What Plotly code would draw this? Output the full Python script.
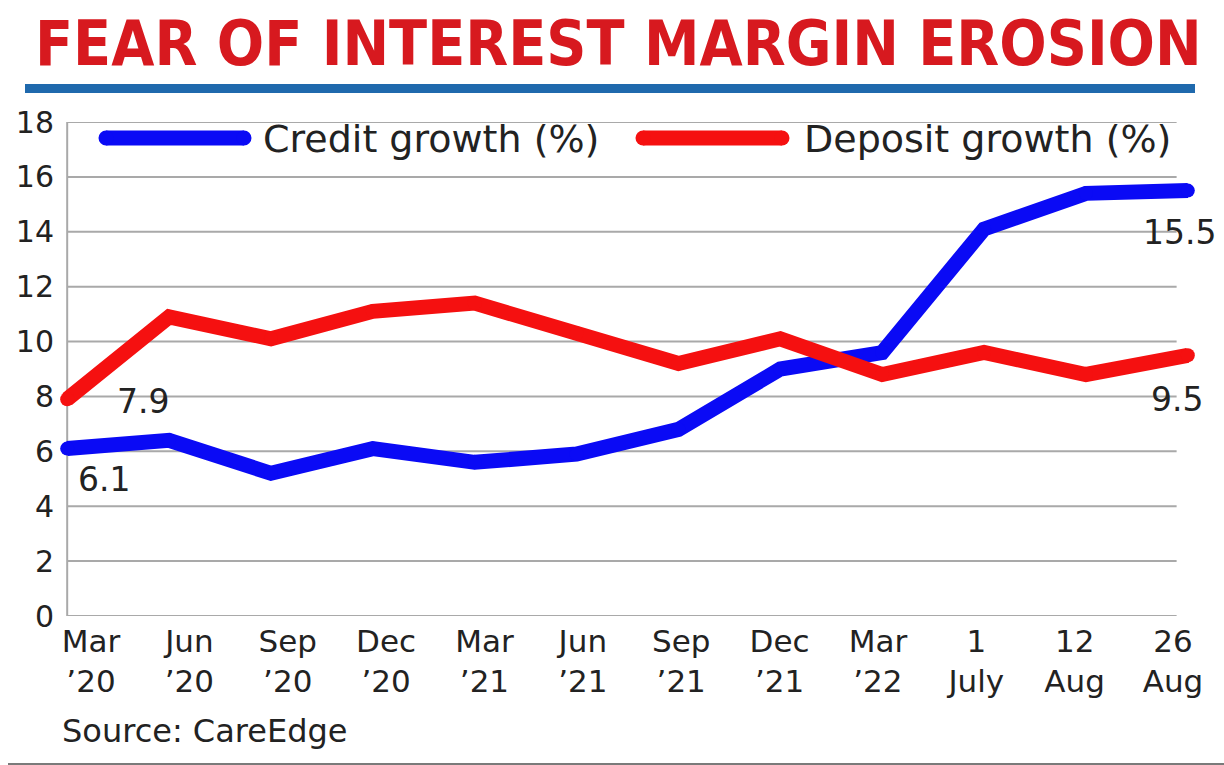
import plotly.graph_objects as go

# ---------------- data ----------------
periods = ["Mar<br>’20", "Jun<br>’20", "Sep<br>’20", "Dec<br>’20", "Mar<br>’21", "Jun<br>’21",
           "Sep<br>’21", "Dec<br>’21", "Mar<br>’22", "1<br>July", "12<br>Aug", "26<br>Aug"]
credit_growth = [6.1, 6.4, 5.2, 6.1, 5.6, 5.9, 6.8, 9.0, 9.6, 14.1, 15.4, 15.5]
deposit_growth = [7.9, 10.9, 10.1, 11.1, 11.4, 10.3, 9.2, 10.1, 8.8, 9.6, 8.8, 9.5]
y_ticks = [0, 2, 4, 6, 8, 10, 12, 14, 16, 18]

title_text = "FEAR OF INTEREST MARGIN EROSION"
source_text = "Source: CareEdge"
legend_names = ["Credit growth (%)", "Deposit growth (%)"]

BLUE = "#0a0af5"
RED = "#f51010"
GRID = "#a9a9a9"
TXT = "#222222"
FONT = "DejaVu Sans, Arial, sans-serif"
TITLE_FONT = ("Liberation Sans Narrow, Noto Sans Condensed, Noto Sans SemiCondensed, "
              "Arial Narrow, DejaVu Sans Condensed, sans-serif")

# ---------------- layout geometry (pixels) ----------------
W, H = 1224, 765
L, R, T, B = 57, 26, 122, 149
PW, PH = W - L - R, H - T - B


def px_x(px):
    return (px - L) / PW


def px_y(py):
    return (H - B - py) / PH


n = len(periods)
xr = [-0.1, n - 1 + 0.1]

fig = go.Figure()

# invisible trace to carry the category labels on the label axis
fig.add_trace(go.Scatter(x=periods, y=[None] * n, xaxis="x2", yaxis="y",
                         mode="lines", showlegend=False, hoverinfo="skip"))

idx = list(range(n))
fig.add_trace(go.Scatter(x=idx, y=credit_growth, mode="lines+markers", name=legend_names[0],
                         line=dict(color=BLUE, width=15), marker=dict(color=BLUE, size=14),
                         showlegend=False, cliponaxis=False))
fig.add_trace(go.Scatter(x=idx, y=deposit_growth, mode="lines+markers", name=legend_names[1],
                         line=dict(color=RED, width=15), marker=dict(color=RED, size=14),
                         showlegend=False, cliponaxis=False))

shapes = []
# horizontal gridlines
for v in y_ticks:
    shapes.append(dict(type="line", xref="x", yref="y", x0=0, x1=n - 1 - 0.11, y0=v, y1=v,
                       line=dict(color=GRID, width=2), layer="below"))
# left axis line
shapes.append(dict(type="line", xref="x", yref="y", x0=0, x1=0, y0=-0.15, y1=y_ticks[-1],
                   line=dict(color=GRID, width=2), layer="below"))
# blue rule under the title
shapes.append(dict(type="rect", xref="paper", yref="paper", x0=px_x(25), x1=px_x(1195),
                   y0=px_y(93), y1=px_y(84), fillcolor="#1f69ad", line=dict(width=0)))
# bottom grey rule
shapes.append(dict(type="line", xref="paper", yref="paper", x0=px_x(8), x1=px_x(1224),
                   y0=px_y(764), y1=px_y(764), line=dict(color="#7a7a7a", width=2)))

# legend keys
for (xa, xb, col) in [(106, 244, BLUE), (643, 782, RED)]:
    shapes.append(dict(type="line", xref="paper", yref="paper", x0=px_x(xa), x1=px_x(xb),
                       y0=px_y(138), y1=px_y(138), line=dict(color=col, width=15)))
    for xc in (xa, xb):
        shapes.append(dict(type="circle", xref="paper", yref="paper", xsizemode="pixel",
                           ysizemode="pixel", xanchor=px_x(xc), yanchor=px_y(138),
                           x0=-7.5, x1=7.5, y0=-7.5, y1=7.5, fillcolor=col, line=dict(width=0)))

annotations = [
    dict(text=f"<b>{title_text}</b>", xref="paper", yref="paper", x=px_x(33), y=px_y(44),
         xanchor="left", yanchor="middle", showarrow=False,
         font=dict(family=TITLE_FONT, size=62, color="#d7191f")),
    dict(text=legend_names[0], xref="paper", yref="paper", x=px_x(261), y=px_y(139),
         xanchor="left", yanchor="middle", showarrow=False, font=dict(family=FONT, size=38, color=TXT)),
    dict(text=legend_names[1], xref="paper", yref="paper", x=px_x(802), y=px_y(139),
         xanchor="left", yanchor="middle", showarrow=False, font=dict(family=FONT, size=38, color=TXT)),
    dict(text=source_text, xref="paper", yref="paper", x=px_x(60), y=px_y(731),
         xanchor="left", yanchor="middle", showarrow=False, font=dict(family=FONT, size=32, color=TXT)),
]

# value labels at the ends of the series
end_labels = [
    (0, deposit_growth[0], 76, -2),
    (0, credit_growth[0], 37, -31),
    (n - 1, credit_growth[-1], -8, -42),
    (n - 1, deposit_growth[-1], -11, -44),
]
for (i, v, dx, dy) in end_labels:
    annotations.append(dict(text=f"{v:.1f}", xref="x", yref="y", x=i, y=v, xshift=dx, yshift=dy,
                            showarrow=False, xanchor="center", yanchor="middle",
                            font=dict(family=FONT, size=33, color=TXT)))

fig.update_layout(
    width=W, height=H, autosize=False,
    margin=dict(l=L, r=R, t=T, b=B, pad=0),
    paper_bgcolor="white", plot_bgcolor="rgba(0,0,0,0)",
    showlegend=False,
    xaxis=dict(range=xr, showgrid=False, zeroline=False, showline=False, showticklabels=False,
               ticks="", automargin=False),
    xaxis2=dict(type="category", domain=[px_x(91), px_x(1173)], range=[0, n - 1], anchor="y",
                showgrid=False, zeroline=False, showline=False, ticks="", automargin=False,
                tickfont=dict(family=FONT, size=31, color=TXT), ticklabelstandoff=4),
    yaxis=dict(range=[0, 18], tickvals=y_ticks, showgrid=False, zeroline=False, showline=False,
               ticks="", automargin=False,
               tickfont=dict(family=FONT, size=30, color=TXT), ticklabelstandoff=2),
    shapes=shapes,
    annotations=annotations,
)

fig.write_html("out.html", config={"responsive": False, "displayModeBar": False})
